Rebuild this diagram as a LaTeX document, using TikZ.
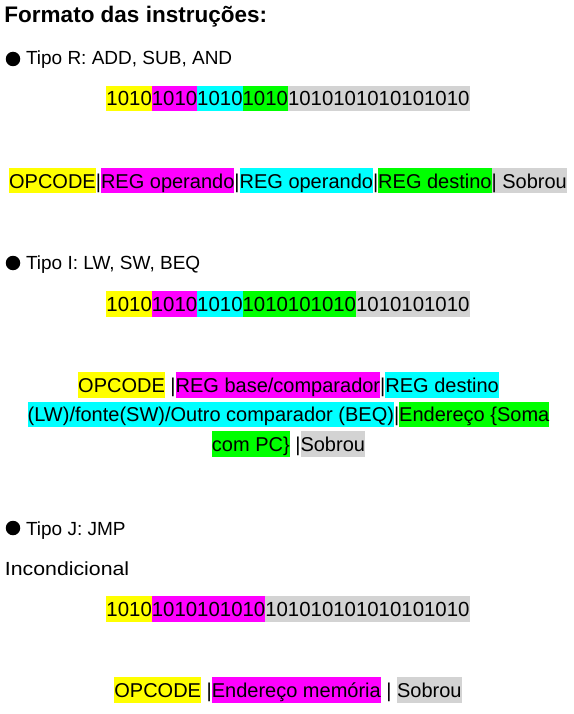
\documentclass[tikz,border=0pt]{standalone}
\usepackage{fontspec}
\setmainfont{Liberation Sans}
\definecolor{hy}{HTML}{FFFF00}
\definecolor{hm}{HTML}{FF00FF}
\definecolor{hc}{HTML}{00FFFF}
\definecolor{hg}{HTML}{00FF00}
\definecolor{hgr}{HTML}{D3D3D3}
\newcommand\hl[2]{{\setlength{\fboxsep}{0pt}\colorbox{#1}{\rule[-5.5pt]{0pt}{25.5pt}#2}}}
\tikzset{
  txt/.style={inner sep=0pt, outer sep=0pt, anchor=base west, font=\fontsize{19}{22}\selectfont},
  bits/.style={inner sep=0pt, outer sep=0pt, anchor=base, font=\fontsize{20.4}{24}\selectfont},
  lbl/.style={inner sep=0pt, outer sep=0pt, anchor=base, font=\fontsize{20}{24}\selectfont},
  dot/.style={circle, fill=black, inner sep=0pt, minimum size=14.5pt}
}
\begin{document}
\begin{tikzpicture}[x=1pt,y=-1pt]
\useasboundingbox (0,0) rectangle (573,714);
\node[txt, font=\fontsize{22.5}{26}\selectfont\bfseries] (title) at (4.5,23) {Formato das instruções:};

% Tipo R
\node[dot] (bR) at (13,59) {};
\node[txt] (tR) at (26,65) {Tipo R: ADD, SUB, AND};
\node[bits] (bitsR) at (288,106) {\hl{hy}{1010}\hl{hm}{1010}\hl{hc}{1010}\hl{hg}{1010}\hl{hgr}{1010101010101010}};
\node[lbl] (lblR) at (288,188) {\hl{hy}{OPCODE}|\hl{hm}{REG operando}|\hl{hc}{REG operando}|\hl{hg}{REG destino}\hl{hgr}{| Sobrou}};

% Tipo I
\node[dot] (bI) at (13,263) {};
\node[txt] (tI) at (26,269) {Tipo I: LW, SW, BEQ};
\node[bits] (bitsI) at (288,311) {\hl{hy}{1010}\hl{hm}{1010}\hl{hc}{1010}\hl{hg}{1010101010}\hl{hgr}{1010101010}};
\node[lbl] (lblI1) at (288.5,392) {\hl{hy}{OPCODE} |\hl{hm}{REG base/comparador}|\hl{hc}{REG destino}};
\node[lbl] (lblI2) at (288.5,421.5) {\hl{hc}{(LW)/fonte(SW)/Outro comparador (BEQ)}|\hl{hg}{Endereço \{Soma}};
\node[lbl] (lblI3) at (288.5,451) {\hl{hg}{com PC\}} |\hl{hgr}{Sobrou}};

% Tipo J
\node[dot] (bJ) at (13,528) {};
\node[txt] (tJ) at (26,535) {Tipo J: JMP};
\node[txt] (inc) at (5,575) {\scalebox{1.12}[1]{Incondicional}};
\node[bits] (bitsJ) at (288,616) {\hl{hy}{1010}\hl{hm}{1010101010}\hl{hgr}{101010101010101010}};
\node[lbl] (lblJ) at (288,697) {\hl{hy}{OPCODE} |\hl{hm}{Endereço memória} | \hl{hgr}{Sobrou}};
\end{tikzpicture}
\end{document}
